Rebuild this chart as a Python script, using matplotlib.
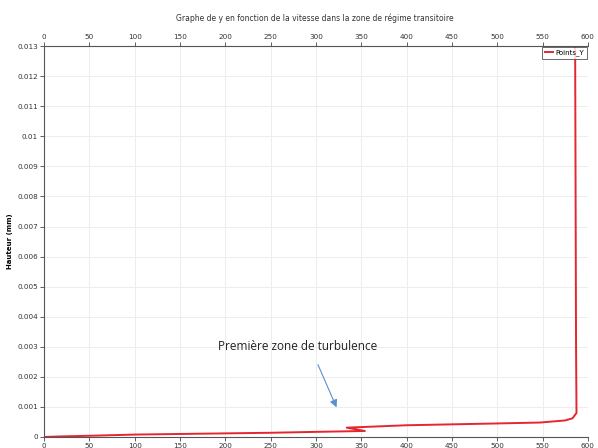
import matplotlib
matplotlib.use("Agg")
import matplotlib.pyplot as plt
from matplotlib.ticker import FuncFormatter, MultipleLocator

# values
vitesse = [0, 20, 50, 100, 150, 200, 250, 300, 354, 334, 400, 450, 500,
           547, 575, 583, 587.5, 587, 586.5, 586]
hauteur = [0, 0.00002, 0.00004, 0.00008, 0.0001, 0.00012, 0.00014, 0.00017,
           0.0002, 0.00031, 0.00039, 0.00042, 0.00045, 0.00048, 0.00055,
           0.00062, 0.0008, 0.003, 0.008, 0.013]
x_ticks = list(range(0, 601, 50))
title = "Graphe de y en fonction de la vitesse dans la zone de régime transitoire"
note = "Première zone de turbulence"

fig = plt.figure(figsize=(5.98, 4.48), dpi=100)
ax = fig.add_axes([0.0736, 0.0246, 0.9094, 0.8724])

ax.plot(vitesse, hauteur, color="#e5262e", lw=1.4, label="Points_Y")
ax.set_xlim(0, 600)
ax.set_ylim(0, 0.013)
ax.set_xticks(x_ticks)
ax.yaxis.set_major_locator(MultipleLocator(0.001))
ax.yaxis.set_major_formatter(FuncFormatter(lambda v, p: "%g" % round(v, 4)))

ax.grid(True, color="#ededed", lw=0.7)
ax.tick_params(axis="both", labelsize=5.2, length=3, width=0.6, colors="#444444",
               labelcolor="#333333", pad=1.5)
ax.tick_params(axis="x", top=True, labeltop=True)
for side in ["left", "bottom", "top"]:
    ax.spines[side].set_color("#555555")
    ax.spines[side].set_linewidth(0.8)
ax.spines["right"].set_visible(False)

ax.set_ylabel("Hauteur (mm)", fontsize=5, fontweight="bold", labelpad=3)
fig.text(0.527, 0.96, title, ha="center", va="center", fontsize=5.5, color="#333333")

leg = ax.legend(loc="upper right", fontsize=5, frameon=True, fancybox=False,
                borderaxespad=0.15, handlelength=1.2, handletextpad=0.4,
                borderpad=0.35)
leg.get_frame().set_edgecolor("#444444")
leg.get_frame().set_linewidth(0.7)

ax.annotate("", xy=(324, 0.0009), xytext=(301, 0.00249),
            arrowprops=dict(arrowstyle="-|>", color="#5b8fd0", lw=0.8,
                            mutation_scale=11))
ax.text(280, 0.003, note, ha="center", va="center", fontsize=8.5,
        family="Open Sans", color="#222222")

fig.savefig("out.png", dpi=100)
